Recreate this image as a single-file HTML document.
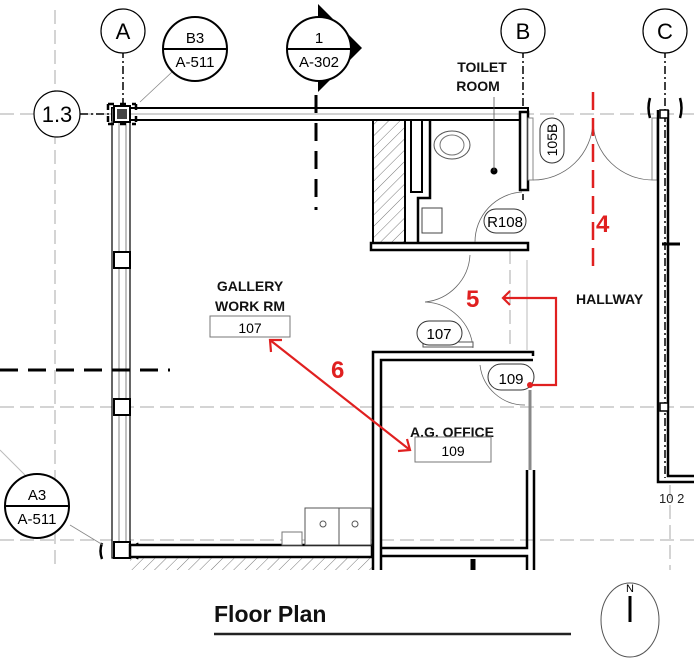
<!DOCTYPE html>
<html><head><meta charset="utf-8"><style>
html,body{margin:0;padding:0;background:#fff;width:694px;height:672px;overflow:hidden}
svg{display:block}
text{font-family:"Liberation Sans",Arial,sans-serif}
</style></head><body>
<svg width="694" height="672" viewBox="0 0 694 672" xmlns="http://www.w3.org/2000/svg">
<defs>
<pattern id="h" width="8" height="8" patternUnits="userSpaceOnUse" patternTransform="rotate(45)"><line x1="0" y1="0" x2="0" y2="8" stroke="#555" stroke-width="0.8"/></pattern>
<clipPath id="c"><rect x="0" y="0" width="694" height="570"/></clipPath>
</defs>
<g clip-path="url(#c)">
<g stroke="#aaa" stroke-width="1" stroke-dasharray="14,6" fill="none">
<line x1="0" y1="114" x2="694" y2="114"/>
<line x1="0" y1="407" x2="694" y2="407"/>
<line x1="0" y1="540" x2="694" y2="540"/>
<line x1="55" y1="10" x2="55" y2="570"/>
<line x1="510" y1="250" x2="510" y2="350"/>
<line x1="670" y1="485" x2="670" y2="570"/>
</g>
<g stroke="#bbb" stroke-width="1" fill="none">
<line x1="527" y1="260" x2="527" y2="350"/>
<line x1="0" y1="450" x2="30" y2="480"/>
</g>
<g stroke="#000" stroke-width="1.5" stroke-dasharray="8,3,2,3" fill="none">
<line x1="123" y1="50" x2="123" y2="560"/>
<line x1="523" y1="50" x2="523" y2="200"/>
<line x1="665" y1="50" x2="665" y2="478"/>
<line x1="80" y1="114" x2="300" y2="114"/>
</g>
<rect x="112" y="108" width="416" height="12" fill="#fff" stroke="#000" stroke-width="2"/>
<line x1="130" y1="114" x2="520" y2="114" stroke="#888" stroke-width="0.8"/>
<rect x="112" y="108" width="18" height="450" fill="#fff" stroke="#000" stroke-width="1.2"/>
<line x1="119" y1="120" x2="119" y2="545" stroke="#666" stroke-width="0.8"/>
<line x1="126" y1="120" x2="126" y2="545" stroke="#666" stroke-width="0.8"/>
<g fill="#fff" stroke="#000" stroke-width="2">
<rect x="114" y="106" width="16" height="16"/>
<rect x="114" y="252" width="16" height="16"/>
<rect x="114" y="399" width="16" height="16"/>
<rect x="114" y="542" width="16" height="16"/>
</g>
<g fill="none" stroke="#000" stroke-width="2.5">
<path d="M108 104 h28 M108 124 h28 M108 104 v20 M136 104 v20" stroke-dasharray="6,6"/>
<path d="M102 543 q-3 8 0 16"/><path d="M137 543 q3 8 0 16"/>
<path d="M650 98 q-3 10 0 20"/><path d="M680 98 q3 10 0 20"/>
</g>
<rect x="117" y="109" width="10" height="10" fill="#444"/>
<rect x="130" y="545" width="242" height="12" fill="#fff" stroke="#000" stroke-width="2.5"/>
<rect x="130" y="558" width="242" height="14" fill="url(#h)"/>
<line x1="316" y1="95" x2="316" y2="210" stroke="#000" stroke-width="3" stroke-dasharray="18,10"/>
<line x1="0" y1="370" x2="170" y2="370" stroke="#000" stroke-width="3" stroke-dasharray="18,10"/>
<rect x="373" y="120" width="32" height="123" fill="url(#h)" stroke="#000" stroke-width="2"/>
<rect x="411" y="120" width="11" height="72" fill="#fff" stroke="#000" stroke-width="2"/>
<path d="M430 120 V198 H418 V243" fill="none" stroke="#000" stroke-width="2.5"/>
<rect x="371" y="243" width="157" height="7" fill="#fff" stroke="#000" stroke-width="2.5"/>
<rect x="520" y="112" width="8" height="78" fill="#fff" stroke="#000" stroke-width="2.5"/>
<rect x="528" y="118" width="5" height="62" fill="#fff" stroke="#888" stroke-width="1"/>
<ellipse cx="452" cy="145" rx="18" ry="14" fill="none" stroke="#555"/>
<ellipse cx="452" cy="145" rx="12" ry="10" fill="none" stroke="#777"/>
<rect x="422" y="208" width="20" height="25" fill="none" stroke="#444"/>
<circle cx="494" cy="171" r="3.5" fill="#000"/>
<line x1="494" y1="97" x2="494" y2="171" stroke="#555" stroke-width="0.8"/>
<path d="M475 242 A50 50 0 0 1 522 192" fill="none" stroke="#666" stroke-width="0.8"/>
<rect x="484" y="209" width="42" height="24" rx="12" fill="#fff" stroke="#333"/>
<text x="505" y="227" font-size="15" text-anchor="middle">R108</text>
<rect x="540" y="118" width="24" height="45" rx="12" fill="#fff" stroke="#333"/>
<text x="552" y="140" font-size="14" text-anchor="middle" dominant-baseline="central" transform="rotate(-90 552 140)">105B</text>
<path d="M533 180 A60 60 0 0 0 593 122" fill="none" stroke="#666" stroke-width="0.8"/>
<path d="M653 180 A60 60 0 0 1 593 122" fill="none" stroke="#666" stroke-width="0.8"/>
<rect x="652" y="118" width="5" height="62" fill="#fff" stroke="#888"/>
<path d="M658 110 V482 H694" fill="none" stroke="#000" stroke-width="2.5"/>
<path d="M668 110 V476 H694" fill="none" stroke="#000" stroke-width="2.5"/>
<rect x="660" y="110" width="8" height="8" fill="#fff" stroke="#000" stroke-width="1.5"/>
<rect x="660" y="403" width="8" height="8" fill="#fff" stroke="#000" stroke-width="1.5"/>
<line x1="662" y1="244" x2="680" y2="244" stroke="#000" stroke-width="3"/>
<text x="659" y="503" font-size="13" fill="#222">10 2</text>
<line x1="593" y1="92" x2="593" y2="272" stroke="#e02020" stroke-width="2.5" stroke-dasharray="18,8"/>
<text x="596" y="232" font-size="24" font-weight="bold" fill="#e02020">4</text>
<text x="576" y="304" font-size="14" font-weight="bold" fill="#111">HALLWAY</text>
<path d="M425 302 A50 50 0 0 0 470 255" fill="none" stroke="#666" stroke-width="0.8"/>
<path d="M425 302 A50 50 0 0 1 473 348" fill="none" stroke="#666" stroke-width="0.8"/>
<rect x="423" y="342" width="50" height="5" fill="#fff" stroke="#555"/>
<rect x="417" y="321" width="45" height="24" rx="12" fill="#fff" stroke="#333"/>
<text x="439" y="339" font-size="15" text-anchor="middle">107</text>
<path d="M373 570 V352 H533 V356" fill="none" stroke="#000" stroke-width="2.5"/>
<path d="M381 570 V360 H533" fill="none" stroke="#000" stroke-width="2.5"/>
<path d="M381 548 H527 V470" fill="none" stroke="#000" stroke-width="2.5"/>
<path d="M381 556 H527 V570" fill="none" stroke="#000" stroke-width="2.5"/>
<path d="M534 470 V570" fill="none" stroke="#000" stroke-width="2.5"/>
<line x1="530" y1="390" x2="530" y2="470" stroke="#888" stroke-width="3"/>
<line x1="473" y1="559" x2="473" y2="575" stroke="#000" stroke-width="5"/>
<path d="M480 365 A45 45 0 0 0 525 405" fill="none" stroke="#666" stroke-width="0.8"/>
<rect x="488" y="364" width="46" height="26" rx="13" fill="#fff" stroke="#333"/>
<text x="511" y="384" font-size="15" text-anchor="middle">109</text>
<rect x="305" y="508" width="66" height="37" fill="#fff" stroke="#555"/>
<line x1="339" y1="508" x2="339" y2="545" stroke="#555"/>
<circle cx="323" cy="524" r="3" fill="none" stroke="#555"/>
<circle cx="355" cy="524" r="3" fill="none" stroke="#555"/>
<rect x="282" y="532" width="20" height="13" fill="#fff" stroke="#777"/>
<text x="250" y="291" font-size="14" font-weight="bold" text-anchor="middle" fill="#111">GALLERY</text>
<text x="250" y="311" font-size="14" font-weight="bold" text-anchor="middle" fill="#111">WORK RM</text>
<rect x="210" y="316" width="80" height="21" fill="#fff" stroke="#777"/>
<text x="250" y="333" font-size="14" text-anchor="middle">107</text>
<text x="452" y="437" font-size="14" font-weight="bold" text-anchor="middle" fill="#111">A.G. OFFICE</text>
<rect x="415" y="437" width="76" height="25" fill="#fff" stroke="#777"/>
<text x="453" y="456" font-size="14" text-anchor="middle">109</text>
<text x="482" y="72" font-size="14" font-weight="bold" text-anchor="middle" fill="#111">TOILET</text>
<text x="478" y="91" font-size="14" font-weight="bold" text-anchor="middle" fill="#111">ROOM</text>
<g stroke="#e02020" stroke-width="2.2" fill="none">
<line x1="270" y1="340" x2="410" y2="450"/>
<path d="M271 352 L270 340 L282 340"/>
<path d="M398 451 L410 450 L407 439"/>
<path d="M530 385 H556 V298 H503"/>
<path d="M510 291 L503 298 L510 305"/>
</g>
<circle cx="530" cy="385" r="3" fill="#e02020"/>
<text x="331" y="378" font-size="24" font-weight="bold" fill="#e02020">6</text>
<text x="466" y="307" font-size="24" font-weight="bold" fill="#e02020">5</text>
</g>
<g fill="#fff" stroke="#000" stroke-width="1.2">
<circle cx="123" cy="31" r="22"/>
<circle cx="523" cy="31" r="22"/>
<circle cx="665" cy="31" r="22"/>
<circle cx="57" cy="114" r="23"/>
</g>
<line x1="140" y1="102" x2="172" y2="72" stroke="#888" stroke-width="0.8"/>
<line x1="70" y1="525" x2="103" y2="545" stroke="#888" stroke-width="0.8"/>
<g font-size="22" text-anchor="middle">
<text x="123" y="39">A</text><text x="523" y="39">B</text><text x="665" y="39">C</text>
<text x="57" y="122">1.3</text>
</g>
<path d="M318 4 L362 48 L318 92 Z" fill="#000"/>
<g fill="#fff" stroke="#000" stroke-width="2">
<circle cx="195" cy="49" r="32"/>
<circle cx="319" cy="49" r="32"/>
<circle cx="37" cy="506" r="32"/>
</g>
<g stroke="#000" stroke-width="2">
<line x1="163" y1="49" x2="227" y2="49"/>
<line x1="287" y1="49" x2="351" y2="49"/>
<line x1="5" y1="506" x2="69" y2="506"/>
</g>
<g font-size="15" text-anchor="middle">
<text x="195" y="43">B3</text><text x="195" y="67">A-511</text>
<text x="319" y="43">1</text><text x="319" y="67">A-302</text>
<text x="37" y="500">A3</text><text x="37" y="524">A-511</text>
</g>
<text x="214" y="622" font-size="23" font-weight="bold" fill="#111">Floor Plan</text>
<line x1="214" y1="634" x2="571" y2="634" stroke="#222" stroke-width="2.5"/>
<ellipse cx="630" cy="620" rx="29" ry="37" fill="none" stroke="#555" stroke-width="1"/>
<line x1="630" y1="596" x2="630" y2="622" stroke="#000" stroke-width="3"/>
<text x="630" y="592" font-size="11" text-anchor="middle">N</text>
</svg>
</body></html>
